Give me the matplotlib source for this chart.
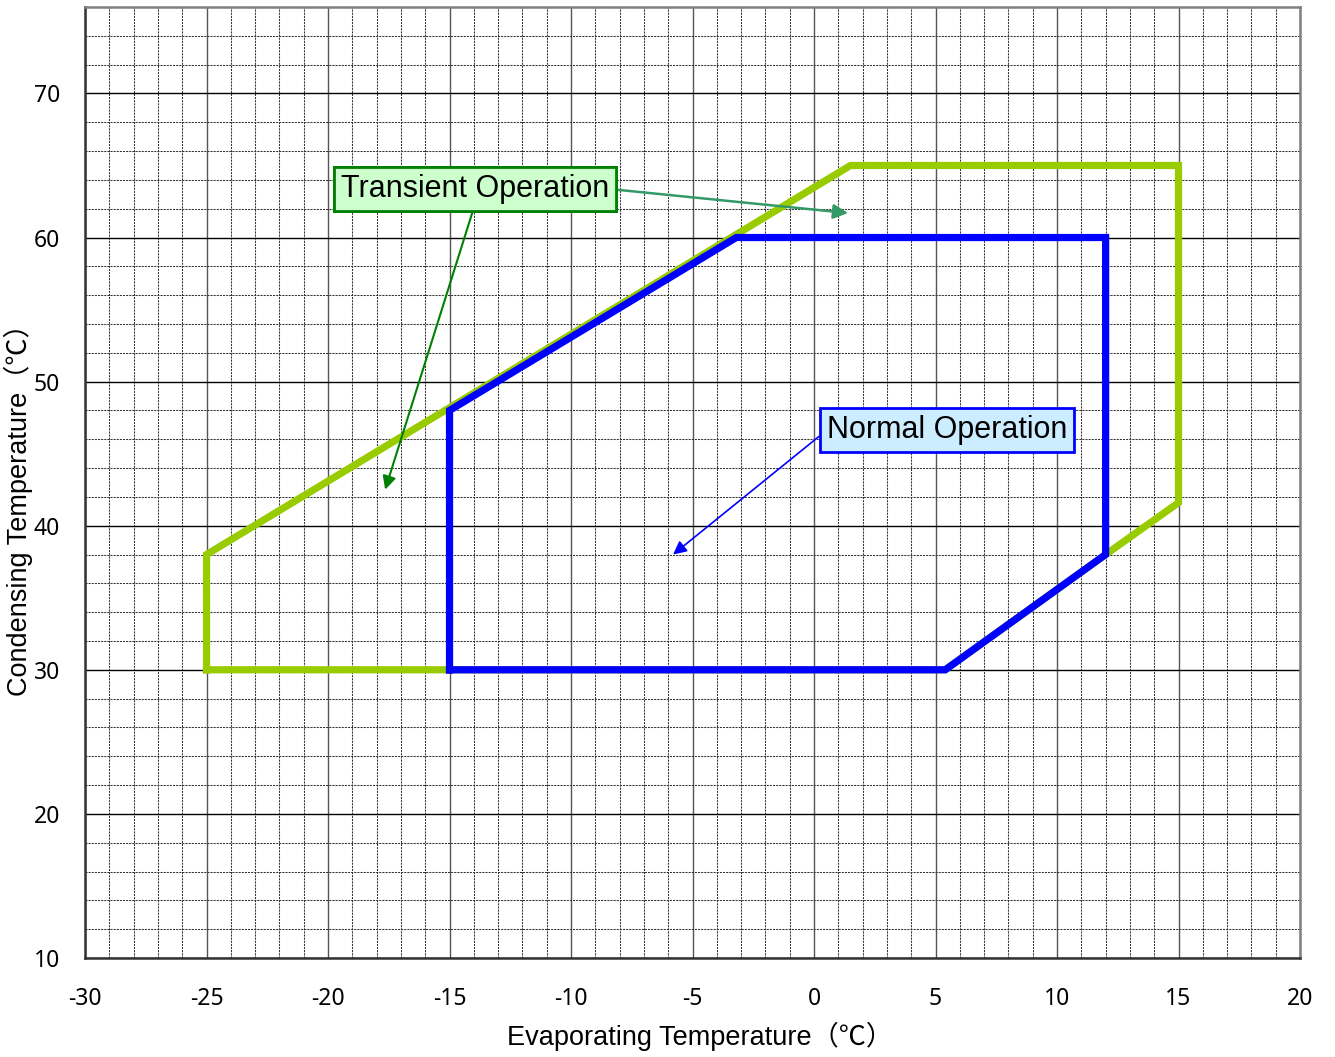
import matplotlib
matplotlib.use("Agg")
import matplotlib.pyplot as plt
from matplotlib.ticker import MultipleLocator

# Operating envelopes (evaporating temp, condensing temp)
transient_x = [-25, -25, 1.5, 15, 15, 12, 5.4, -25]
transient_y = [30, 38, 65, 65, 41.6, 38, 30, 30]
normal_x = [-15, -15, -3.2, 12, 12, 5.4, -15]
normal_y = [30, 48, 60, 60, 38, 30, 30]

x_ticks = [-30, -25, -20, -15, -10, -5, 0, 5, 10, 15, 20]
y_ticks = [10, 20, 30, 40, 50, 60, 70]

label_font = ["Liberation Sans", "Noto Sans CJK SC", "DejaVu Sans"]
tick_font = ["Noto Sans", "DejaVu Sans"]

fig = plt.figure(figsize=(13.35, 10.57), dpi=100)
ax = fig.add_axes([0.0637, 0.0937, 0.9101, 0.8997])
ax.set_xlim(-30, 20)
ax.set_ylim(10, 76)

ax.xaxis.set_minor_locator(MultipleLocator(1))
ax.yaxis.set_minor_locator(MultipleLocator(2))
ax.set_xticks(x_ticks)
ax.set_xticklabels([str(v) for v in x_ticks])
ax.set_yticks(y_ticks)
ax.set_yticklabels([str(v) for v in y_ticks])

ax.grid(which="minor", color="#333333", linestyle=(0, (2, 1)), linewidth=0.75)
ax.grid(which="major", axis="x", color="#555555", linestyle="-", linewidth=1.0)
ax.grid(which="major", axis="y", color="black", linestyle="-", linewidth=1.0)
ax.set_axisbelow(True)

for side, sp in ax.spines.items():
    sp.set_color("#808080" if side in ("top", "right") else "#333333")
    sp.set_linewidth(1.8)

ax.tick_params(which="both", length=0)
ax.tick_params(axis="x", pad=21)
ax.tick_params(axis="y", pad=18)
for lbl in ax.get_xticklabels() + ax.get_yticklabels():
    lbl.set_fontfamily(tick_font)
    lbl.set_fontsize(16.5)

ax.plot(transient_x, transient_y, color="#99CC00", linewidth=5.2,
        solid_joinstyle="miter", zorder=3)
ax.plot(normal_x, normal_y, color="#0000FF", linewidth=5.2,
        solid_joinstyle="miter", zorder=4)

ax.set_xlabel("Evaporating Temperature（℃）", fontfamily=label_font,
              fontsize=19.5)
ax.set_ylabel("Condensing Temperature（℃）", fontfamily=label_font,
              fontsize=19.5)
ax.xaxis.label.set_va("center")
ax.yaxis.label.set_va("center")
ax.xaxis.set_label_coords(0.506, -0.082)
ax.yaxis.set_label_coords(-0.055, 0.478)

# Callout boxes with arrows
ax.annotate("Transient Operation", xy=(1.4, 61.7), xytext=(-13.95, 63.37),
            fontsize=22, fontfamily=label_font, ha="center", va="center",
            bbox=dict(boxstyle="square,pad=0.22", fc="#CCFFCC", ec="#008000", lw=2),
            arrowprops=dict(arrowstyle="-|>", color="#339966", lw=1.8,
                            mutation_scale=22, shrinkA=0, shrinkB=0,
                            relpos=(1.0, 0.5)),
            zorder=6)
ax.annotate("Transient Operation", xy=(-17.65, 42.5), xytext=(-13.95, 63.37),
            fontsize=22, fontfamily=label_font, ha="center", va="center",
            bbox=dict(boxstyle="square,pad=0.22", fc="#CCFFCC", ec="#008000", lw=2),
            arrowprops=dict(arrowstyle="-|>", color="#008000", lw=1.5,
                            mutation_scale=20, shrinkA=0, shrinkB=0,
                            relpos=(0.5, 0.0)),
            zorder=5)
ax.annotate("Normal Operation", xy=(-5.8, 38.0), xytext=(5.47, 46.63),
            fontsize=22, fontfamily=label_font, ha="center", va="center",
            bbox=dict(boxstyle="square,pad=0.22", fc="#CCECFF", ec="#0000FF", lw=2),
            arrowprops=dict(arrowstyle="-|>", color="#0000FF", lw=1.2,
                            mutation_scale=20, shrinkA=0, shrinkB=0,
                            relpos=(0.0, 0.5)),
            zorder=6)

fig.savefig("out.png", dpi=100)
